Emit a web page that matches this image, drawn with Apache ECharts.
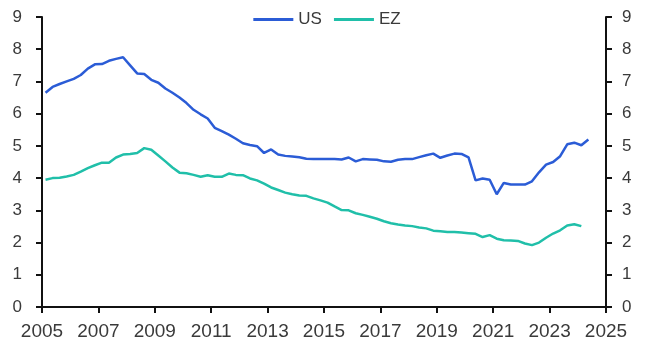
<!DOCTYPE html>
<html>
<head>
<meta charset="utf-8">
<script src="https://cdn.jsdelivr.net/npm/echarts@6/dist/echarts.min.js"></script>
<style>
  html, body { margin: 0; padding: 0; background: #fff; }
  #main { width: 654px; height: 351px; }
</style>
</head>
<body>
<div id="main"></div>
<script>
// quarterly points, first one at 2005Q1 (plotted mid-quarter)
const startYear = 2005.125;
const step = 0.25;

const usValues = [
  6.65, 6.83, 6.92, 7.0, 7.08, 7.2, 7.4, 7.53, 7.54, 7.64, 7.7, 7.75,
  7.5, 7.25, 7.23, 7.05, 6.96, 6.78, 6.65, 6.5, 6.33, 6.12, 5.98, 5.85,
  5.56, 5.46, 5.35, 5.22, 5.08, 5.03, 4.99, 4.78, 4.89, 4.73, 4.69, 4.67,
  4.65, 4.6, 4.59, 4.59, 4.59, 4.59, 4.58, 4.64, 4.52, 4.59, 4.58, 4.57,
  4.52, 4.51, 4.57, 4.59, 4.59, 4.65, 4.71, 4.76, 4.63, 4.7, 4.76, 4.75,
  4.64, 3.93, 3.99, 3.95, 3.5, 3.85, 3.8, 3.8, 3.8, 3.9, 4.18, 4.42,
  4.5, 4.68, 5.05, 5.1, 5.02, 5.2
];

const ezValues = [
  3.95, 4.0, 4.01, 4.05, 4.1, 4.2, 4.31, 4.4, 4.48, 4.48, 4.64, 4.73,
  4.75, 4.78, 4.93, 4.88, 4.7, 4.52, 4.33, 4.17, 4.15, 4.1, 4.04, 4.09,
  4.04, 4.04, 4.14, 4.1, 4.09, 3.99, 3.93, 3.83, 3.71, 3.63, 3.55, 3.5,
  3.46, 3.45, 3.37, 3.31, 3.24, 3.12, 3.01, 3.0, 2.91, 2.86, 2.8, 2.74,
  2.66, 2.6, 2.56, 2.53, 2.51, 2.47, 2.44, 2.37, 2.35, 2.33, 2.33, 2.31,
  2.29, 2.27, 2.17, 2.23, 2.12, 2.07, 2.06, 2.05, 1.97, 1.92, 2.0, 2.15,
  2.28, 2.38, 2.53, 2.57, 2.51
];

const toPairs = vals => vals.map((v, i) => [startYear + i * step, v]);

const font = 'Liberation Sans, Arial, sans-serif';
const yLabel = { color: '#3a3a3a', fontSize: 17, fontFamily: font };
const xLabel = { color: '#3a3a3a', fontSize: 19, fontFamily: font };

const yAxisBase = {
  type: 'value',
  min: 0,
  max: 9,
  interval: 1,
  splitLine: { show: false },
  axisLine: { show: true, lineStyle: { color: '#111', width: 2 } },
  axisTick: { show: true, inside: false, length: 6, lineStyle: { color: '#111', width: 2 } }
};

const chart = echarts.init(document.getElementById('main'));

const option = {
  animation: false,
  backgroundColor: '#fff',
  legend: {
    top: 6,
    left: 'center',
    itemWidth: 40,
    itemHeight: 3,
    itemGap: 12,
    icon: 'rect',
    textStyle: { color: '#3a3a3a', fontSize: 17, fontFamily: font },
    data: ['US', 'EZ']
  },
  grid: { left: 42, right: 48, top: 17, bottom: 44 },
  xAxis: {
    type: 'value',
    min: 2005,
    max: 2025,
    interval: 2,
    splitLine: { show: false },
    axisLine: { lineStyle: { color: '#111', width: 2 } },
    axisTick: { show: true, length: 6, lineStyle: { color: '#111', width: 2 } },
    axisLabel: Object.assign({ margin: 15, formatter: v => String(v) }, xLabel)
  },
  yAxis: [
    Object.assign({}, yAxisBase, {
      position: 'left',
      axisLabel: Object.assign({ margin: 20 }, yLabel)
    }),
    Object.assign({}, yAxisBase, {
      position: 'right',
      axisLabel: Object.assign({ margin: 16 }, yLabel)
    })
  ],
  series: [
    {
      name: 'US',
      type: 'line',
      data: toPairs(usValues),
      showSymbol: false,
      itemStyle: { color: '#2b5cd6' },
      lineStyle: { color: '#2b5cd6', width: 2.5 }
    },
    {
      name: 'EZ',
      type: 'line',
      data: toPairs(ezValues),
      showSymbol: false,
      itemStyle: { color: '#20bfa9' },
      lineStyle: { color: '#20bfa9', width: 2.5 }
    }
  ]
};

option && chart.setOption(option);
</script>
</body>
</html>
